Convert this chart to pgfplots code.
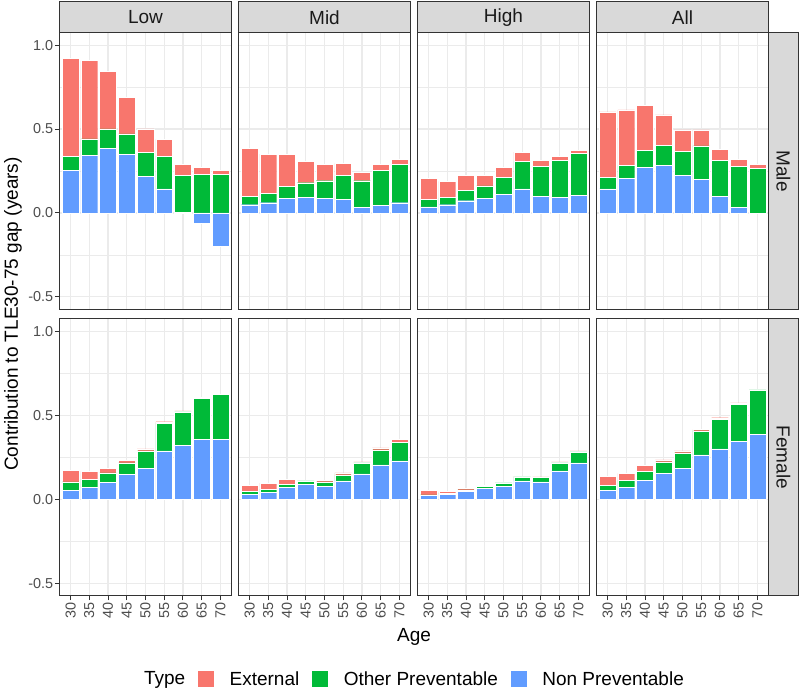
\documentclass[border=0pt]{standalone}
\usepackage{fontspec}
\setmainfont{Liberation Sans}
\usepackage{pgfplots}
\usepackage{pgfplotstable}
\pgfplotsset{compat=1.18}
\definecolor{cEX}{HTML}{F8766D}
\definecolor{cOP}{HTML}{00BA38}
\definecolor{cNP}{HTML}{619CFF}
\definecolor{gray10}{HTML}{1A1A1A}
\definecolor{gray20}{HTML}{333333}
\definecolor{gray30}{HTML}{4D4D4D}
\definecolor{gray85}{HTML}{D9D9D9}
\definecolor{gray92}{HTML}{EBEBEB}

% columns: x, non preventable (positive part), other preventable, external
\pgfplotstableread{
x np op ex
1 0.253 0.083 0.584
2 0.344 0.097 0.467
3 0.386 0.115 0.342
4 0.348 0.123 0.216
5 0.218 0.144 0.139
6 0.144 0.194 0.101
7 0.004 0.220 0.065
8 0.000 0.230 0.043
9 0.000 0.230 0.023
}\LowM
\pgfplotstableread{
x npneg
8 -0.059
9 -0.198
}\LowMneg
\pgfplotstableread{
x np op ex
1 0.049 0.048 0.289
2 0.061 0.056 0.233
3 0.085 0.073 0.192
4 0.091 0.089 0.127
5 0.085 0.107 0.097
6 0.079 0.145 0.071
7 0.032 0.160 0.049
8 0.044 0.209 0.036
9 0.061 0.228 0.032
}\MidM
\pgfplotstableread{
x np op ex
1 0.036 0.043 0.127
2 0.049 0.042 0.097
3 0.073 0.060 0.091
4 0.085 0.077 0.062
5 0.111 0.101 0.059
6 0.144 0.163 0.055
7 0.097 0.180 0.036
8 0.091 0.224 0.021
9 0.103 0.251 0.020
}\HighM
\pgfplotstableread{
x np op ex
1 0.144 0.068 0.390
2 0.206 0.077 0.331
3 0.271 0.103 0.269
4 0.283 0.121 0.180
5 0.224 0.144 0.127
6 0.200 0.200 0.095
7 0.097 0.216 0.067
8 0.032 0.245 0.042
9 0.000 0.265 0.024
}\AllM
\pgfplotstableread{
x np op ex
1 0.055 0.050 0.069
2 0.071 0.050 0.047
3 0.103 0.055 0.028
4 0.150 0.068 0.016
5 0.186 0.103 0.012
6 0.289 0.164 0.010
7 0.321 0.201 0.006
8 0.360 0.242 0.006
9 0.360 0.265 0.002
}\LowF
\pgfplotstableread{
x np op ex
1 0.030 0.017 0.036
2 0.044 0.017 0.036
3 0.073 0.018 0.030
4 0.091 0.020 0.004
5 0.079 0.026 0.010
6 0.111 0.035 0.012
7 0.152 0.066 0.006
8 0.206 0.089 0.012
9 0.230 0.112 0.014
}\MidF
\pgfplotstableread{
x np op ex
1 0.024 0.004 0.027
2 0.030 0.008 0.009
3 0.049 0.008 0.010
4 0.067 0.012 0.004
5 0.079 0.020 0.004
6 0.111 0.024 0.004
7 0.105 0.028 0.002
8 0.170 0.048 0.006
9 0.218 0.065 0.006
}\HighF
\pgfplotstableread{
x np op ex
1 0.055 0.030 0.054
2 0.071 0.044 0.041
3 0.115 0.053 0.036
4 0.156 0.068 0.012
5 0.186 0.091 0.012
6 0.265 0.143 0.008
7 0.301 0.178 0.008
8 0.348 0.218 0.010
9 0.386 0.267 0.004
}\AllF

\newcommand{\tickfont}{\fontsize{14.4}{16}\selectfont}
\newcommand{\bigfont}{\fontsize{19}{22}\selectfont}

\pgfplotsset{
  mybar/.style={fill=#1, draw=white, line width=0.4pt,
    legend image code/.code={\fill[fill=#1] (0pt,-8.7pt) rectangle (17pt,8.3pt);}},
  panel/.style={
    scale only axis, width=172.4pt, height=277pt, anchor=south west,
    xmin=0.4, xmax=9.6, ymin=-0.575, ymax=1.075,
    ybar stacked, bar width=0.9,
    axis line style={draw=gray20, line width=1pt},
    xtick={1,2,3,4,5,6,7,8,9},
    ytick={-0.5,0,0.5,1}, minor ytick={-0.25,0.25,0.75},
    xmajorgrids, ymajorgrids, yminorgrids,
    major grid style={draw=gray92, line width=1.1pt},
    minor grid style={draw=gray92, line width=0.55pt},
    tick align=outside, major tick length=4.5pt, minor tick length=0pt,
    tick style={draw=gray20, line width=1pt},
    xtick pos=bottom, ytick pos=left,
    xticklabels={}, yticklabels={},
    clip=false,
  },
  leftpanel/.style={
    yticklabels={{-0.5},{0.0},{0.5},{1.0}},
    yticklabel style={font=\tickfont, text=gray30, inner sep=1.5pt},
  },
  noyt/.style={ytick style={draw=none}},
  noxt/.style={xtick style={draw=none}},
  bottompanel/.style={
    xticklabels={30,35,40,45,50,55,60,65,70},
    xticklabel style={font=\tickfont, text=gray30, rotate=90, anchor=east, inner sep=1.5pt},
  },
}

\newcommand{\bars}[1]{%
  \addplot[mybar=cNP] table[x=x,y=np]{#1};
  \addplot[mybar=cOP] table[x=x,y=op]{#1};
  \addplot[mybar=cEX] table[x=x,y=ex]{#1};
}

\begin{document}
\begin{tikzpicture}[x=1pt,y=1pt]
\path[use as bounding box] (0,0) rectangle (800,692);

% top row (Male)
\begin{axis}[panel, leftpanel, noxt, at={(59.3pt,382.5pt)}]
\bars{\LowM}
\end{axis}
\begin{axis}[panel, hide axis, ybar, bar width=0.9, bar shift=0pt,
  at={(59.3pt,382.5pt)}]
\addplot[fill=cNP, draw=white, line width=0.4pt] table[x=x,y=npneg]{\LowMneg};
\end{axis}
\begin{axis}[panel, noxt, noyt, at={(238.3pt,382.5pt)}]
\bars{\MidM}
\end{axis}
\begin{axis}[panel, noxt, noyt, at={(417.3pt,382.5pt)}]
\bars{\HighM}
\end{axis}
\begin{axis}[panel, noxt, noyt, at={(596.3pt,382.5pt)}]
\bars{\AllM}
\end{axis}

% bottom row (Female)
\begin{axis}[panel, leftpanel, bottompanel, at={(59.3pt,96pt)},
  legend columns=-1, reverse legend,
  legend style={draw=none, fill=none, font=\bigfont, text=black,
    at={(2.0574,-0.2996)}, anchor=center, inner sep=0pt,
    /tikz/every odd column/.append style={column sep=13pt},
    /tikz/every even column/.append style={column sep=10pt}}]
\bars{\LowF}
\addlegendentry{Non Preventable}
\addlegendentry{Other Preventable}
\addlegendentry{External}
\addlegendimage{empty legend}
\addlegendentry{\hspace*{-13pt}Type}
\end{axis}
\begin{axis}[panel, bottompanel, noyt, at={(238.3pt,96pt)}]
\bars{\MidF}
\end{axis}
\begin{axis}[panel, bottompanel, noyt, at={(417.3pt,96pt)}]
\bars{\HighF}
\end{axis}
\begin{axis}[panel, bottompanel, noyt, at={(596.3pt,96pt)}]
\bars{\AllF}
\end{axis}

% strips
\foreach \L/\T in {59.3/Low, 238.3/Mid, 417.3/High, 596.3/All}{
  \draw[fill=gray85, draw=gray20, line width=1pt] (\L,659.5) rectangle ++(172.4,30.5);
  \node[font=\bigfont, text=gray10] at (\L+86.2,674.75) {\T};
}
\draw[fill=gray85, draw=gray20, line width=1pt] (768.7,382.5) rectangle (798.3,659.5);
\node[font=\bigfont, text=gray10, rotate=-90] at (783.5,521) {Male};
\draw[fill=gray85, draw=gray20, line width=1pt] (768.7,96) rectangle (798.3,373);
\node[font=\bigfont, text=gray10, rotate=-90] at (783.5,234.5) {Female};

% axis titles
\node[font=\bigfont, anchor=base] at (414,50) {Age};
\node[font=\bigfont, rotate=90] at (13,378) {Contribution to TLE30-75 gap (years)};
\end{tikzpicture}
\end{document}
